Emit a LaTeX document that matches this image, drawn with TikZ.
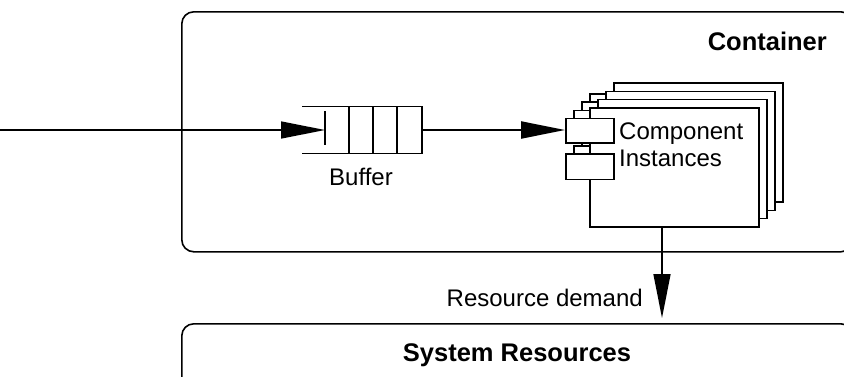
\documentclass[tikz,border=0pt]{standalone}
\usepackage{fontspec}
\setmainfont{Liberation Sans}
\usetikzlibrary{arrows.meta,calc}
\tikzset{
  frame/.style={draw, line width=1.6pt, rounded corners=12pt, inner sep=0pt, anchor=north west},
  lbl/.style={inner sep=0pt, font=\fontsize{24}{27}\selectfont},
  blbl/.style={inner sep=0pt, font=\fontsize{25.5}{29}\selectfont\bfseries},
  compbox/.style={draw, fill=white, line width=1.5pt, inner sep=0pt, minimum width=169pt, minimum height=119pt, anchor=north west},
  portbox/.style={draw, fill=white, line width=1.5pt, inner sep=0pt, minimum width=48pt, minimum height=24.5pt, anchor=north west},
  qline/.style={line width=1.6pt},
  bigarrow/.style={-{Triangle[length=44pt,width=17pt]}, line width=1.5pt},
  anchorbox/.style={inner sep=0pt, outer sep=0pt},
}
\begin{document}
\begin{tikzpicture}[x=1pt,y=-1pt]
\useasboundingbox (0,0) rectangle (844,376);
\clip (0,0) rectangle (844,376);
% container and system resources
\node[frame, minimum width=671pt, minimum height=240pt] (container) at (181,11) {};
\node[blbl, anchor=base east] (ctitle) at (827,50) {Container};
\node[frame, minimum width=671pt, minimum height=70pt] (sys) at (181,323) {};
\node[blbl, anchor=base] (systitle) at (517,361) {System Resources};
% queue (buffer)
\node[anchorbox, minimum width=120pt, minimum height=47pt, anchor=north west] (queue) at (302,106.5) {};
\draw[qline] (queue.north west) -- (queue.north east) -- (queue.south east) -- (queue.south west);
\foreach \x in {349,373,397} \draw[qline] (\x,106.5) -- (\x,153.5);
\node[anchorbox, minimum width=0pt, minimum height=34pt] (slot) at (325,128) {};
\draw[qline] (slot.north) -- (slot.south);
\node[lbl, anchor=base] (buflabel) at (361,185) {Buffer};
% component instances
\foreach \k in {3,2,1,0} {
  \node[compbox] (comp\k) at (589+8.1*\k, 107-8.2*\k) {};
  \node[portbox] (portu\k) at (565+8.1*\k, 117.75-8.2*\k) {};
  \node[portbox, minimum height=25.5pt] (portl\k) at (565+8.1*\k, 153.3-8.2*\k) {};
}
\node[lbl, anchor=base west] (ci1) at (619,139) {Component};
\node[lbl, anchor=base west] (ci2) at (619,166) {Instances};
% connectors
\coordinate (src) at (-3,130);
\draw[bigarrow] (src) -- (src -| slot.center);
\draw[bigarrow, line width=2.2pt] (queue.east) -- (queue.east -| portu0.west);
\coordinate (dem) at (662,226);
\draw[bigarrow, shorten >=5pt] (dem) -- (dem |- sys.north);
\node[lbl, anchor=base east] (rdlabel) at (643,306) {Resource demand};
\end{tikzpicture}
\end{document}
